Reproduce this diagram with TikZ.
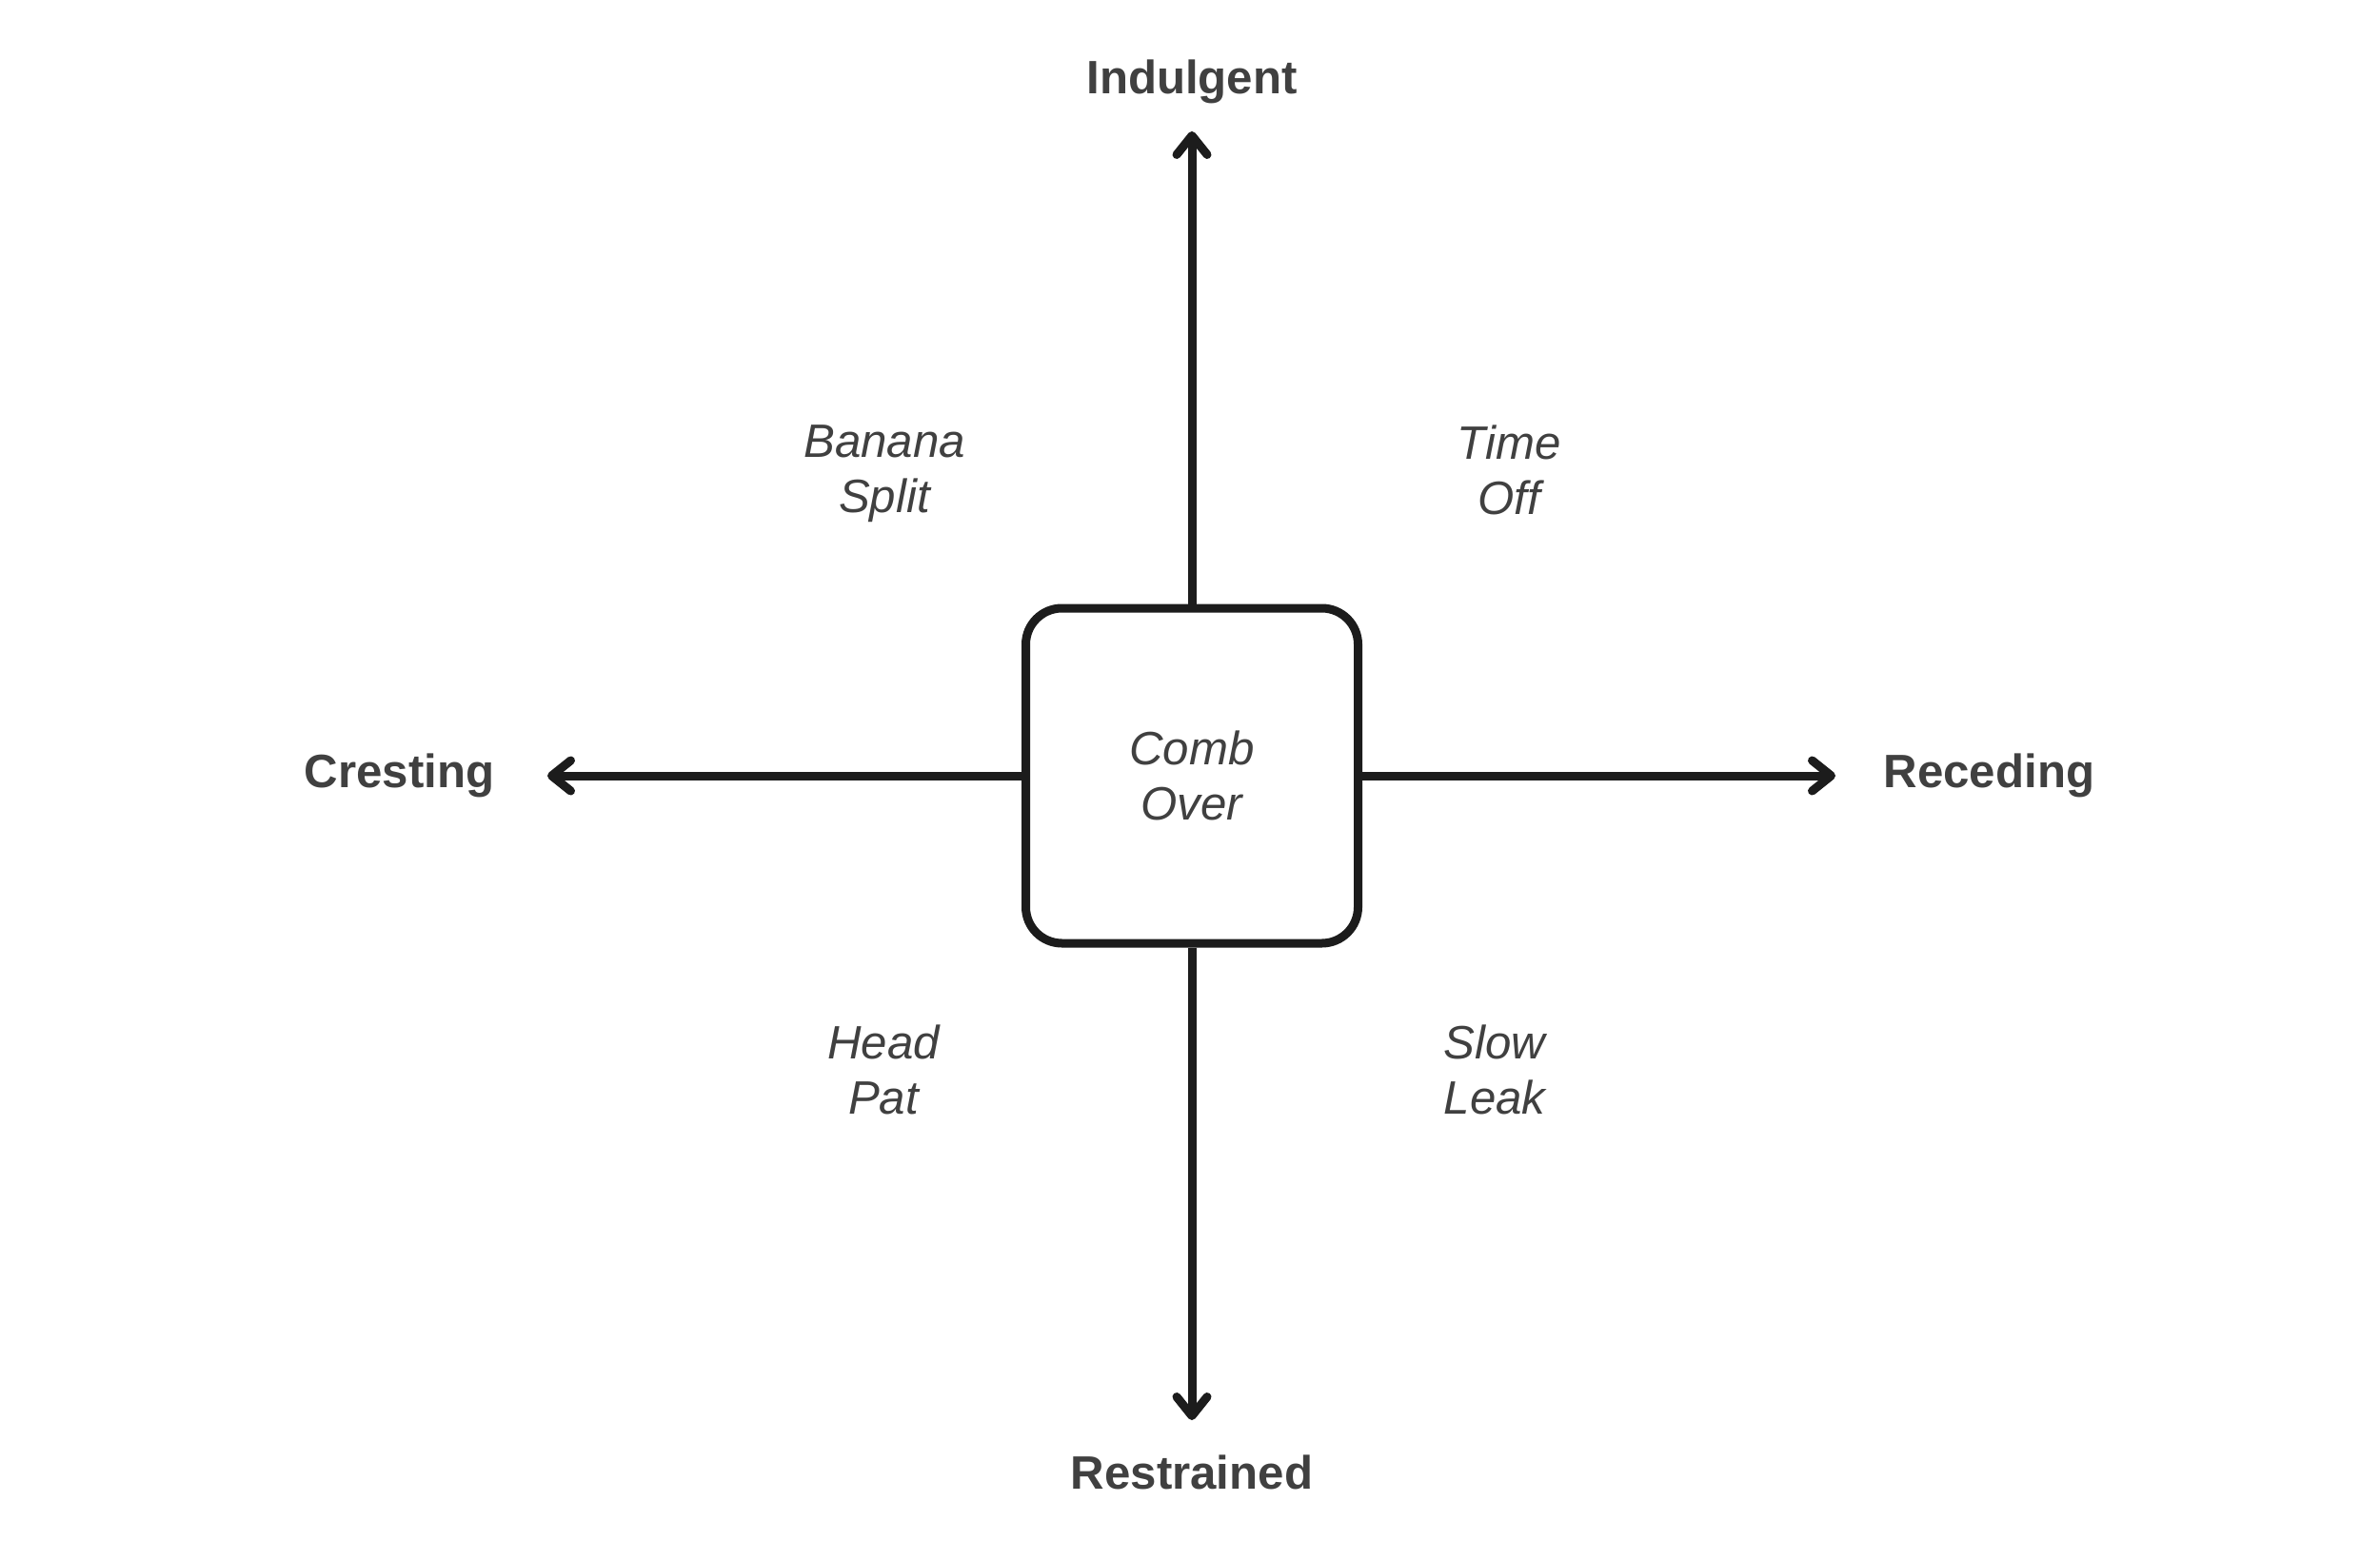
\documentclass[tikz,border=0pt]{standalone}
\usepackage{fontspec}
\setmainfont{Liberation Sans}
\usetikzlibrary{arrows.meta, positioning}
\definecolor{axisInk}{HTML}{1C1C1C}
\definecolor{labelInk}{HTML}{404040}

\begin{document}
\begin{tikzpicture}[
    node distance=0.35cm,
    axis/.style={draw=axisInk, line width=0.09cm,
                 -{Straight Barb[length=0.2cm, width=0.32cm, round]}},
    core/.style={rectangle, rounded corners=0.38cm, draw=axisInk, line width=0.09cm,
                 fill=white, minimum width=3.49cm, minimum height=3.52cm, align=center,
                 font=\fontsize{14pt}{16.5pt}\selectfont\itshape, text=labelInk},
    axislabel/.style={font=\fontsize{14pt}{16.5pt}\selectfont\bfseries,
                 text=labelInk, inner sep=0pt},
    quadlabel/.style={font=\fontsize{14pt}{16.5pt}\selectfont\itshape,
                 text=labelInk, align=center, inner sep=0pt, anchor=base},
  ]
    \useasboundingbox (0,0) rectangle (25,16.18);

    % centre box and arrow ends
    \node[core] (box) at (12.52,8.03) {Comb\\Over};
    \coordinate (up) at (12.52,14.80);
    \coordinate (down) at (12.52,1.26);
    \coordinate (left) at (5.75,8.03);
    \coordinate (right) at (19.28,8.03);

    \draw[axis] (box.north) -- (up);
    \draw[axis] (box.south) -- (down);
    \draw[axis] (box.west) -- (left);
    \draw[axis] (box.east) -- (right);

    % axis labels
    \node[axislabel, above=0.28cm of up] (indulgent) {Indulgent};
    \node[axislabel, below=0.36cm of down] (restrained) {Restrained};
    \node[axislabel, left=0.55cm of left] (cresting) {Cresting};
    \node[axislabel, right=0.50cm of right] (receding) {Receding};

    % quadrants (base = last line)
    \node[quadlabel] (banana) at (9.29,10.80) {Banana\\Split};
    \node[quadlabel] (timeoff) at (15.85,10.78) {Time\\Off};
    \node[quadlabel] (headpat) at (9.28,4.48) {Head\\Pat};
    \node[quadlabel] (slowleak) at (15.70,4.48) {Slow\\Leak};
\end{tikzpicture}
\end{document}
